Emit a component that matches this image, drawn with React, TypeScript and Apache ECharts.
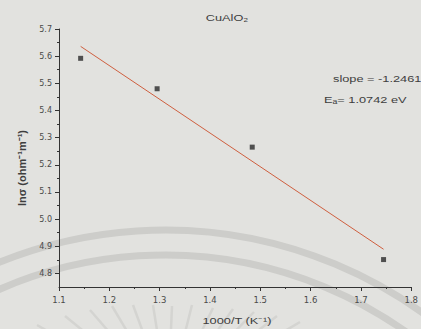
import React, { useEffect, useRef } from "react";
import * as echarts from "echarts";

const xValues = [1.143, 1.295, 1.484, 1.745];
const lnSigma = [5.592, 5.48, 5.265, 4.851];
const fitX = [1.143, 1.745];
const fitY = [5.636, 4.889];
const yMajorTicks = [4.8, 4.9, 5.0, 5.1, 5.2, 5.3, 5.4, 5.5, 5.6, 5.7];
const yMinorTicks = [4.85, 4.95, 5.05, 5.15, 5.25, 5.35, 5.45, 5.55, 5.65];
const titleText = "CuAlO₂";
const slopeText = "slope = -1.2461";
const eaText = "Eₐ= 1.0742 eV";
const xName = "1000/T (K⁻¹)";
const yName = "lnσ (ohm⁻¹m⁻¹)";

// faint watermark spokes (decoration), start points
const spokeStarts = [
  [37, 325], [65, 316], [90, 310], [112, 306], [133, 305], [153, 305], [172, 306],
  [192, 305], [213, 308], [233, 309], [254, 312], [277, 316], [300, 322],
];

const FONT = "Liberation Sans, Arial, sans-serif";
const TICKFONT = "DejaVu Sans, sans-serif";
const TXT = "#3e3e3e";
const SX = 1.42;

export default function App() {
  const ref = useRef<HTMLDivElement>(null);
  useEffect(() => {
    if (!ref.current) return;
    const chart = echarts.init(ref.current, null, { renderer: "svg" });
    const grid = { left: 59, right: 6, top: 29, bottom: 42 };
    const cx = 168, cy = 400;
    const spokes = spokeStarts.map(([x, y]) => {
      const dx = cx - x, dy = cy - y;
      const t = (340 - y) / dy;
      return {
        type: "line",
        z: -10,
        silent: true,
        shape: { x1: x, y1: y, x2: x + dx * t, y2: 340 },
        style: { stroke: "#d4d4d1", lineWidth: 2.5 },
      };
    });
    chart.setOption({
      animation: false,
      backgroundColor: "#e2e2df",
      grid,
      xAxis: {
        type: "value",
        min: 1.1,
        max: 1.8,
        interval: 0.1,
        axisLine: { show: true, lineStyle: { color: "#333", width: 1 } },
        axisTick: { show: true, length: 4, lineStyle: { color: "#333" } },
        minorTick: { show: true, splitNumber: 2, length: 2, lineStyle: { color: "#333" } },
        splitLine: { show: false },
        axisLabel: {
          margin: 8,
          fontSize: 8.5,
          color: "#4a4a4a",
          fontFamily: TICKFONT,
          formatter: (v: number) => v.toFixed(1),
        },
      },
      yAxis: [
        {
          type: "value",
          min: 4.75,
          max: 5.7,
          axisLine: { show: true, lineStyle: { color: "#333", width: 1 } },
          axisTick: { show: true, length: 4, customValues: yMajorTicks, lineStyle: { color: "#333" } },
          splitLine: { show: false },
          axisLabel: {
            customValues: yMajorTicks,
            margin: 7,
            fontSize: 8,
            color: "#4a4a4a",
            fontFamily: TICKFONT,
            formatter: (v: number) => v.toFixed(1),
          },
        },
        {
          type: "value",
          min: 4.75,
          max: 5.7,
          position: "left",
          axisLine: { show: false },
          axisTick: { show: true, length: 2, customValues: yMinorTicks, lineStyle: { color: "#333" } },
          splitLine: { show: false },
          axisLabel: { show: false, customValues: yMinorTicks },
        },
      ],
      graphic: [
        ...spokes,
        {
          type: "arc",
          z: -10,
          silent: true,
          shape: { cx: 165, cy: 671, r: 441, startAngle: -2.05, endAngle: -0.3 },
          style: { stroke: "#cdcdca", lineWidth: 7, fill: "none" },
        },
        {
          type: "arc",
          z: -10,
          silent: true,
          shape: { cx: 165, cy: 671, r: 416, startAngle: -2.05, endAngle: -0.3 },
          style: { stroke: "#cdcdca", lineWidth: 7, fill: "none" },
        },
        {
          type: "text",
          x: 227,
          y: 18,
          scaleX: SX,
          style: { text: titleText, fontSize: 9, fill: TXT, fontFamily: FONT, align: "center", verticalAlign: "middle" },
        },
        {
          type: "text",
          x: 333,
          y: 79,
          scaleX: SX,
          style: { text: slopeText, fontSize: 9, fill: TXT, fontFamily: FONT, align: "left", verticalAlign: "middle" },
        },
        {
          type: "text",
          x: 324,
          y: 100,
          scaleX: SX,
          style: { text: eaText, fontSize: 9, fill: TXT, fontFamily: FONT, align: "left", verticalAlign: "middle" },
        },
        {
          type: "text",
          x: 237,
          y: 321,
          scaleX: SX,
          style: { text: xName, fontSize: 9, fill: TXT, fontFamily: FONT, align: "center", verticalAlign: "middle" },
        },
        {
          type: "text",
          x: 22,
          y: 168,
          rotation: Math.PI / 2,
          style: { text: yName, fontSize: 11, fontWeight: "bold", fill: TXT, fontFamily: FONT, align: "center", verticalAlign: "middle" },
        },
      ],
      series: [
        {
          type: "line",
          data: fitX.map((x, i) => [x, fitY[i]]),
          showSymbol: false,
          symbol: "none",
          lineStyle: { color: "#cf5f3f", width: 1 },
          z: 2,
        },
        {
          type: "scatter",
          data: xValues.map((x, i) => [x, lnSigma[i]]),
          symbol: "rect",
          symbolSize: 5,
          itemStyle: { color: "#2b2b2b" },
          z: 3,
        },
      ],
    });
    return () => chart.dispose();
  }, []);
  return (
    <div
      ref={ref}
      style={{ position: "fixed", left: 0, top: 0, width: 421, height: 329 }}
    />
  );
}
